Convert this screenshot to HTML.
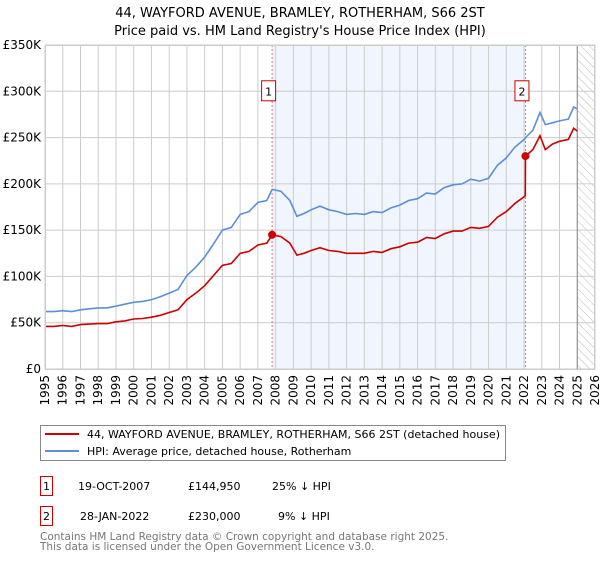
<!DOCTYPE html>
<html><head><meta charset="utf-8"><style>
body{margin:0;background:#fff;font-family:"Liberation Sans","DejaVu Sans",sans-serif;}
svg text{font-family:"DejaVu Sans","Liberation Sans",sans-serif;}
</style></head><body>
<svg id="chart" width="600" height="560" xmlns="http://www.w3.org/2000/svg">
<defs><pattern id="hatch" width="6" height="6" patternUnits="userSpaceOnUse" patternTransform="rotate(-45)"><line x1="0" y1="0" x2="0" y2="6" stroke="#bbb" stroke-width="1"/></pattern></defs>
<text x="300" y="17" text-anchor="middle" font-size="13" fill="#000">44, WAYFORD AVENUE, BRAMLEY, ROTHERHAM, S66 2ST</text>
<text x="300" y="35" text-anchor="middle" font-size="13" fill="#000">Price paid vs. HM Land Registry's House Price Index (HPI)</text>
<g id="plot"></g>
<rect x="40.5" y="425.5" width="465" height="35" fill="#fff" stroke="#888"/>
<line x1="45" y1="434" x2="79" y2="434" stroke="#cc0000" stroke-width="2"/>
<text x="87" y="438" font-size="11">44, WAYFORD AVENUE, BRAMLEY, ROTHERHAM, S66 2ST (detached house)</text>
<line x1="45" y1="451" x2="79" y2="451" stroke="#5b8fd6" stroke-width="2"/>
<text x="87" y="455" font-size="11">HPI: Average price, detached house, Rotherham</text>
<g font-size="11">
<rect x="40.5" y="476.5" width="12" height="19" fill="#fff" stroke="#cc0000"/>
<text x="46.5" y="490" text-anchor="middle">1</text>
<text x="78" y="490">19-OCT-2007</text><text x="188" y="490">£144,950</text><text x="272" y="490">25% ↓ HPI</text></g>
<g font-size="11">
<rect x="40.5" y="506.5" width="12" height="19" fill="#fff" stroke="#cc0000"/>
<text x="46.5" y="520" text-anchor="middle">2</text>
<text x="80" y="520">28-JAN-2022</text><text x="188" y="520">£230,000</text><text x="278" y="520">9% ↓ HPI</text></g>
<text x="40" y="540" font-size="10.5" fill="#777">Contains HM Land Registry data © Crown copyright and database right 2025.</text>
<text x="40" y="550" font-size="10.5" fill="#777">This data is licensed under the Open Government Licence v3.0.</text>
</svg>
<script>
const dates=[1995,1995.5,1996,1996.5,1997,1997.5,1998,1998.5,1999,1999.5,2000,2000.5,2001,2001.5,2002,2002.5,2003,2003.5,2004,2004.5,2005,2005.5,2006,2006.5,2007,2007.5,2007.8,2008.3,2008.8,2009.2,2009.6,2010,2010.5,2011,2011.5,2012,2012.5,2013,2013.5,2014,2014.5,2015,2015.5,2016,2016.5,2017,2017.5,2018,2018.5,2019,2019.5,2020,2020.5,2021,2021.5,2022.07,2022.08,2022.5,2022.9,2023.2,2023.6,2024,2024.5,2024.8,2025];
const hpiValues=[62,62,63,62,64,65,66,66,68,70,72,73,75,78,82,86,101,110,121,135,150,153,167,170,180,182,194,192,182,165,168,172,176,172,170,167,168,167,170,169,174,177,182,184,190,189,196,199,200,205,203,206,220,228,240,249,250,258,277,264,266,268,270,283,281];
const priceValues=[46,46,47,46,48,48.5,49,49,51,52,54,54.5,56,58,61,64,75,82,90,101,112,114,125,127,134,136,145,143,136,123,125,128,131,128,127,125,125,125,127,126,130,132,136,137,142,141,146,149,149,153,152,154,164,170,179,187,230,237,252,237,243,246,248,260,257];
const yTicks=[0,50,100,150,200,250,300,350];
const yTickLabels=["£0","£50K","£100K","£150K","£200K","£250K","£300K","£350K"];
const xYears=[1995,1996,1997,1998,1999,2000,2001,2002,2003,2004,2005,2006,2007,2008,2009,2010,2011,2012,2013,2014,2015,2016,2017,2018,2019,2020,2021,2022,2023,2024,2025,2026];
const sales=[{label:"1",date:2007.8,value:145},{label:"2",date:2022.08,value:230}];
const X0=45,X1=595,Y0=369,Y1=45;
const xs=d=>X0+(d-1995)*(X1-X0)/31;
const ys=v=>Y0-v*(Y0-Y1)/350;
const NS="http://www.w3.org/2000/svg";
const g=document.getElementById('plot');
function mk(t,a){const e=document.createElementNS(NS,t);for(const k in a)e.setAttribute(k,a[k]);g.appendChild(e);return e;}
let e;
e=mk('rect',{x:xs(2007.8),y:Y1,width:xs(2022.08)-xs(2007.8),height:Y0-Y1,fill:'#eef3fc',opacity:0.8});


e=mk('rect',{x:xs(2025),y:Y1,width:X1-xs(2025),height:Y0-Y1,fill:'url(#hatch)'});


yTicks.forEach((v,i)=>{
 e=mk('line',{x1:X0,x2:X1,y1:ys(v),y2:ys(v),stroke:'#ccc','stroke-width':1});
 
 
 e=mk('text',{x:X0-4,y:ys(v)+4,'text-anchor':'end','font-size':12});e.textContent=yTickLabels[i];
 
 
});
xYears.forEach(y=>{
 e=mk('line',{x1:xs(y),x2:xs(y),y1:Y1,y2:Y0,stroke:'#ccc','stroke-width':1});
 
 
 e=mk('text',{x:0,y:0,'text-anchor':'end','font-size':12,transform:`translate(${xs(y)+4},${Y0+6}) rotate(-90)`});e.textContent=y;
 
 
});
e=mk('line',{x1:xs(2025),x2:xs(2025),y1:Y1,y2:Y0,stroke:'#888','stroke-width':1});


sales.forEach(s=>{
 e=mk('line',{x1:xs(s.date),x2:xs(s.date),y1:Y1,y2:Y0,stroke:'#e07070','stroke-width':1,'stroke-dasharray':'2,2'});
 
 
});
function path(vals,col,name){
 const d=dates.map((t,i)=>(i?'L':'M')+xs(t).toFixed(1)+','+ys(vals[i]).toFixed(1)).join('');
 e=mk('path',{d:d,fill:'none',stroke:col,'stroke-width':1.6});
 
 
}
path(hpiValues,'#5b8fd6','hpi-line');
path(priceValues,'#cc0000','price-paid-line');
sales.forEach(s=>{
 e=mk('circle',{cx:xs(s.date),cy:ys(s.value),r:4,fill:'#cc0000'});
 
 
 e=mk('rect',{x:xs(s.date)-10.5,y:ys(300)-10.5,width:14,height:20,fill:'#fff',stroke:'#cc0000'});
 
 
 e=mk('text',{x:xs(s.date)-3.5,y:ys(300)+4,'text-anchor':'middle','font-size':11});e.textContent=s.label;
 
 
});
e=mk('rect',{x:X0+0.5,y:Y1+0.5,width:X1-X0-1,height:Y0-Y1,fill:'none',stroke:'#ccc'});


</script>
</body></html>
